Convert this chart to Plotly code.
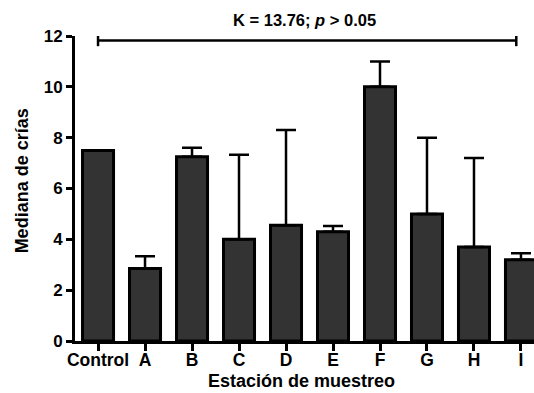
import plotly.graph_objects as go

categories = ["Control", "A", "B", "C", "D", "E", "F", "G", "H", "I"]
medians = [7.5, 2.85, 7.25, 4.0, 4.55, 4.3, 10.0, 5.0, 3.7, 3.2]
upper_err = [0.0, 0.48, 0.35, 3.33, 3.75, 0.22, 1.0, 3.0, 3.5, 0.25]
y_ticks = [0, 2, 4, 6, 8, 10, 12]
stat_text = "<b>K = 13.76; <i>p</i> &gt; 0.05</b>"
x_title = "<b>Estación de muestreo</b>"
y_title = "<b>Mediana de crías</b>"
bracket_y = 11.82
bracket_x = [0, 8.9]

FONT = "Liberation Sans, Arial, sans-serif"

fig = go.Figure()
fig.add_trace(go.Bar(
    x=list(range(len(categories))),
    y=medians,
    width=0.66,
    marker=dict(color="#333333", line=dict(color="black", width=3)),
    error_y=dict(type="data", array=upper_err, arrayminus=[0] * len(upper_err),
                 symmetric=False, color="black", thickness=2.5, width=10),
    showlegend=False,
))

# bracket
fig.add_shape(type="line", xref="x", yref="y", x0=bracket_x[0], x1=bracket_x[1],
              y0=bracket_y, y1=bracket_y, line=dict(color="black", width=2.5))
for bx in bracket_x:
    fig.add_shape(type="line", xref="x", yref="y", x0=bx, x1=bx,
                  y0=bracket_y - 0.22, y1=bracket_y + 0.22,
                  line=dict(color="black", width=2.5))

fig.add_annotation(text=stat_text, xref="paper", yref="paper", x=0.5, y=1.051,
                   showarrow=False, yanchor="middle", xanchor="center",
                   font=dict(family=FONT, size=16.5, color="black"))
fig.add_annotation(text=x_title, xref="paper", yref="paper", x=0.493, y=-0.131,
                   showarrow=False, yanchor="middle", xanchor="center",
                   font=dict(family=FONT, size=18, color="black"))
fig.add_annotation(text=y_title, xref="paper", yref="paper", x=-0.1155, y=0.5266,
                   showarrow=False, yanchor="middle", xanchor="center", textangle=-90,
                   font=dict(family=FONT, size=18, color="black"))

fig.update_layout(
    width=534, height=393,
    margin=dict(l=75, r=0, t=35.5, b=52.3),
    plot_bgcolor="white", paper_bgcolor="white",
)
fig.update_xaxes(
    range=[-0.49, 9.277], automargin=False, ticklabeloverflow="allow",
    tickmode="array", tickvals=list(range(len(categories))), ticktext=categories,
    showline=True, linecolor="black", linewidth=3,
    ticks="outside", ticklen=7, tickwidth=3, tickcolor="black",
    ticklabelstandoff=-6,
    showgrid=False, zeroline=False,
    tickfont=dict(family=FONT, size=17.5, color="black", weight="bold"),
)
fig.update_yaxes(
    range=[0, 12], automargin=False,
    tickmode="array", tickvals=y_ticks,
    showline=True, linecolor="black", linewidth=3,
    ticks="outside", ticklen=6, tickwidth=3, tickcolor="black",
    showgrid=False, zeroline=False,
    tickfont=dict(family=FONT, size=17, color="black", weight="bold"),
)

fig.write_html(
    "out.html",
    config={"displayModeBar": False},
    post_script="document.body.style.margin='0';document.body.style.overflow='hidden';",
)
